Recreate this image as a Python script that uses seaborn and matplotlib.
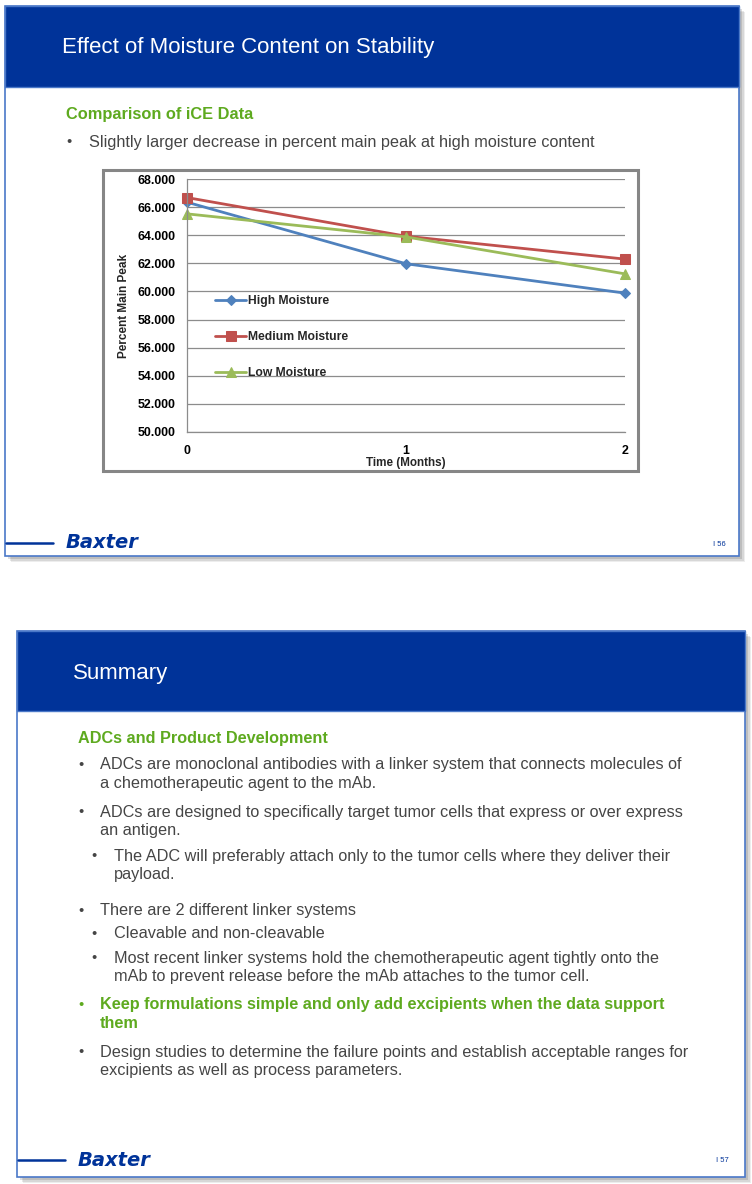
import matplotlib
matplotlib.use("Agg")
import matplotlib.pyplot as plt
from matplotlib.patches import Rectangle
import pandas as pd
import seaborn as sns

# chart data
months = [0, 1, 2]
high_moisture = [66.35, 61.97, 59.88]
medium_moisture = [66.68, 63.93, 62.30]
low_moisture = [65.52, 63.88, 61.25]
series_names = ["High Moisture", "Medium Moisture", "Low Moisture"]
y_ticks = [50, 52, 54, 56, 58, 60, 62, 64, 66, 68]

slide1_title = "Effect of Moisture Content on Stability"
slide1_heading = "Comparison of iCE Data"
slide1_bullet = "Slightly larger decrease in percent main peak at high moisture content"

slide2_title = "Summary"
slide2_heading = "ADCs and Product Development"
# (level, green?, lines)
slide2_bullets = [
    (0, False, ["ADCs are monoclonal antibodies with a linker system that connects molecules of",
                "a chemotherapeutic agent to the mAb."]),
    (0, False, ["ADCs are designed to specifically target tumor cells that express or over express",
                "an antigen."]),
    (1, False, ["The ADC will preferably attach only to the tumor cells where they deliver their",
                "payload."]),
    (0, False, ["There are 2 different linker systems"]),
    (1, False, ["Cleavable and non-cleavable"]),
    (1, False, ["Most recent linker systems hold the chemotherapeutic agent tightly onto the",
                "mAb to prevent release before the mAb attaches to the tumor cell."]),
    (0, True, ["Keep formulations simple and only add excipients when the data support",
               "them"]),
    (0, False, ["Design studies to determine the failure points and establish acceptable ranges for",
                "excipients as well as process parameters."]),
]
slide2_bullet_y = [765, 812, 856, 911, 934, 958, 1005, 1052]

BLUE = "#003399"
GREEN = "#5EAA1F"
GRAY_TXT = "#454545"
BORDER = "#4A78C8"

sns.set_theme(style="white")
plt.rcParams["font.family"] = ["Liberation Sans", "DejaVu Sans"]

W, H = 752, 1184
fig = plt.figure(figsize=(W / 100, H / 100), dpi=100)
bg = fig.add_axes([0, 0, 1, 1])
bg.set_xlim(0, W)
bg.set_ylim(H, 0)
bg.axis("off")


def slide(x0, y0, x1, y1, head_bottom):
    # soft shadow
    for i, a in enumerate([0.10, 0.14, 0.20]):
        off = 6 - i * 1.5
        bg.add_patch(Rectangle((x0 + off, y0 + off), x1 - x0, y1 - y0,
                               facecolor="#555555", edgecolor="none", alpha=a, zorder=1))
    bg.add_patch(Rectangle((x0, y0), x1 - x0, y1 - y0, facecolor="white",
                           edgecolor=BORDER, lw=1.2, zorder=2))
    bg.add_patch(Rectangle((x0, y0), x1 - x0, head_bottom - y0, facecolor=BLUE,
                           edgecolor=BORDER, lw=1.0, zorder=3))


def footer(x0, y, page, x_page):
    bg.plot([x0 + 1, x0 + 48], [y, y], color=BLUE, lw=1.8, zorder=4)
    bg.text(x0 + 61, y, "Baxter", color=BLUE, fontsize=14, fontweight="bold",
            fontstyle="italic", family="DejaVu Sans", va="center", ha="left", zorder=4)
    bg.text(x_page, y + 1, "I " + page, color=BLUE, fontsize=5.5, va="center",
            ha="left", zorder=4)


# ---- slide 1 ----
slide(5, 6, 739, 556, 87)
bg.text(62, 47, slide1_title, color="white", fontsize=16, va="center", zorder=4)
bg.text(66, 115, slide1_heading, color=GREEN, fontsize=11.8, fontweight="bold",
        va="center", zorder=4)
bg.text(66, 142, "\u2022", color=GRAY_TXT, fontsize=10.5, va="center", zorder=4)
bg.text(89, 142, slide1_bullet, color=GRAY_TXT, fontsize=11.7, va="center", zorder=4)
footer(5, 543, "56", 713)

# chart frame
bg.add_patch(Rectangle((103, 170), 535, 301, facecolor="white", edgecolor="#868686",
                       lw=2.2, zorder=4))

# ---- slide 2 ----
slide(17, 631, 745, 1177, 711)
bg.text(73, 673, slide2_title, color="white", fontsize=16, va="center", zorder=4)
bg.text(78, 738, slide2_heading, color=GREEN, fontsize=11.7, fontweight="bold",
        va="center", zorder=4)
for (level, green, lines), y in zip(slide2_bullets, slide2_bullet_y):
    col = GREEN if green else GRAY_TXT
    wt = "bold" if green else "normal"
    bx = 78 if level == 0 else 91
    tx = 100 if level == 0 else 114
    bg.text(bx, y, "\u2022", color=col, fontsize=10.5, va="center", zorder=4)
    for k, line in enumerate(lines):
        bg.text(tx, y + k * 18.5, line, color=col, fontsize=11.7, fontweight=wt,
                va="center", zorder=4)
footer(17, 1160, "57", 716)

# ---- line chart ----
left, right, top, bottom = 187, 625, 179, 432
ax = fig.add_axes([left / W, 1 - bottom / H, (right - left) / W, (bottom - top) / H])
ax.set_zorder(5)

df = pd.DataFrame({
    "Time": months * 3,
    "Peak": high_moisture + medium_moisture + low_moisture,
    "Series": [s for s in series_names for _ in months],
})
colors = {"High Moisture": "#4F81BD", "Medium Moisture": "#C0504D", "Low Moisture": "#9BBB59"}
markers = {"High Moisture": "D", "Medium Moisture": "s", "Low Moisture": "^"}
msize = {"High Moisture": 5.5, "Medium Moisture": 7.5, "Low Moisture": 7.5}

for name in series_names:
    sns.lineplot(data=df[df["Series"] == name], x="Time", y="Peak", ax=ax,
                 color=colors[name], marker=markers[name], markersize=msize[name],
                 markeredgecolor=colors[name], linewidth=2.0, label=name, clip_on=False)

ax.set_xlim(0, 2)
ax.set_ylim(50, 68)
ax.set_xticks(months)
ax.set_yticks(y_ticks)
ax.set_yticklabels(["%.3f" % v for v in y_ticks])
ax.grid(axis="y", color="#8C8C8C", lw=0.9)
ax.grid(axis="x", visible=False)
ax.set_axisbelow(True)
for s in ["top", "right"]:
    ax.spines[s].set_visible(False)
for s in ["left", "bottom"]:
    ax.spines[s].set_color("#8C8C8C")
    ax.spines[s].set_linewidth(0.9)
ax.tick_params(axis="both", length=0, labelsize=8.9, colors="black")
ax.tick_params(axis="y", pad=8)
ax.tick_params(axis="x", pad=9)
for lab in ax.get_xticklabels() + ax.get_yticklabels():
    lab.set_fontweight("bold")

ax.set_xlabel("Time (Months)", fontsize=8.4, fontweight="bold")
ax.set_ylabel("Percent Main Peak", fontsize=8.5, fontweight="bold")
ax.xaxis.set_label_coords(0.5, -0.124)
ax.xaxis.label.set_va("center")
ax.yaxis.set_label_coords(-0.144, 0.5)
ax.yaxis.label.set_va("center")

ax.legend(loc="upper left", bbox_to_anchor=(0.05, 0.565), frameon=False,
          labelspacing=2.0, handlelength=2.6, handletextpad=0.15, borderpad=0,
          prop={"weight": "bold", "size": 8.7})

fig.savefig("out.png", dpi=100)
